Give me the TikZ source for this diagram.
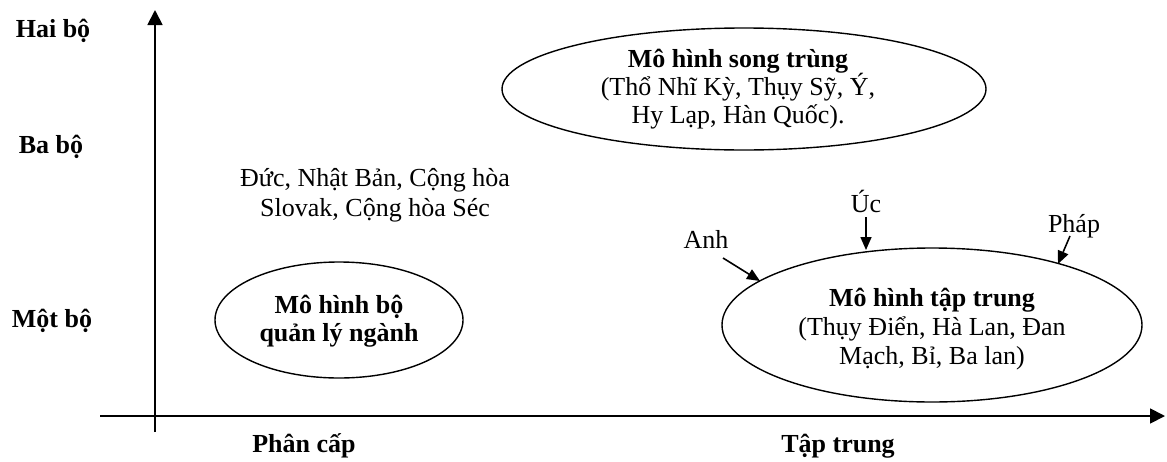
\documentclass[tikz,border=0pt]{standalone}
\usepackage{fontspec}
\setmainfont{Liberation Serif}
\usetikzlibrary{arrows.meta}
\begin{document}
\begin{tikzpicture}[x=1pt,y=-1pt,
  txt/.style={font=\fontsize{26}{28}\selectfont, inner sep=0pt, anchor=base},
  btxt/.style={txt, font=\fontsize{26}{28}\selectfont\bfseries},
  oval/.style={draw, line width=1.4pt},
  axis/.style={line width=1.8pt, -{Triangle[length=15pt,width=15pt]}},
  pointer/.style={line width=1.6pt, -{Triangle[length=13pt,width=11pt]}}]
\useasboundingbox (0,0) rectangle (1167,461);

% axes
\coordinate (ybot) at (155,432);
\coordinate (ytop) at (155,10);
\coordinate (xleft) at (100,416);
\coordinate (xright) at (1165,416);
\draw[axis] (ybot) -- (ytop);
\draw[axis] (xleft) -- (xright);

% axis labels
\node[btxt] (hai) at (53,37) {Hai bộ};
\node[btxt] (ba) at (51,153) {Ba bộ};
\node[btxt] (mot) at (52,327) {Một bộ};
\node[btxt] (phancap) at (304,452) {Phân cấp};
\node[btxt] (taptrung) at (838,452) {Tập trung};

% ellipses
\draw[oval] (744,89) ellipse [x radius=242, y radius=61];
\draw[oval] (339,320) ellipse [x radius=124, y radius=58];
\draw[oval] (932,325) ellipse [x radius=210, y radius=77];

% dual model
\node[btxt] (song1) at (738,67) {Mô hình song trùng};
\node[txt] (song2) at (738,95) {(Thổ Nhĩ Kỳ, Thụy Sỹ, Ý,};
\node[txt] (song3) at (738,123) {Hy Lạp, Hàn Quốc).};

% sector ministry model
\node[btxt] (boql1) at (339,313) {Mô hình bộ};
\node[btxt] (boql2) at (339,341) {quản lý ngành};

% centralised model
\node[btxt] (tt1) at (932,306) {Mô hình tập trung};
\node[txt] (tt2) at (932,335) {(Thụy Điển, Hà Lan, Đan};
\node[txt] (tt3) at (932,364) {Mạch, Bỉ, Ba lan)};

% countries in between
\node[txt] (duc1) at (375,186) {Đức, Nhật Bản, Cộng hòa};
\node[txt] (duc2) at (375,216) {Slovak, Cộng hòa Séc};

% country pointers
\node[txt] (uc) at (866,212) {Úc};
\node[txt] (anh) at (706,248) {Anh};
\node[txt] (phap) at (1074,232) {Pháp};
\coordinate (ucstart) at (866,217);
\coordinate (ucend) at (866,250);
\coordinate (anhstart) at (723,258);
\coordinate (anhend) at (760,281);
\coordinate (phapstart) at (1070,236);
\coordinate (phapend) at (1058,264);
\draw[pointer] (ucstart) -- (ucend);
\draw[pointer] (anhstart) -- (anhend);
\draw[pointer] (phapstart) -- (phapend);
\end{tikzpicture}
\end{document}
